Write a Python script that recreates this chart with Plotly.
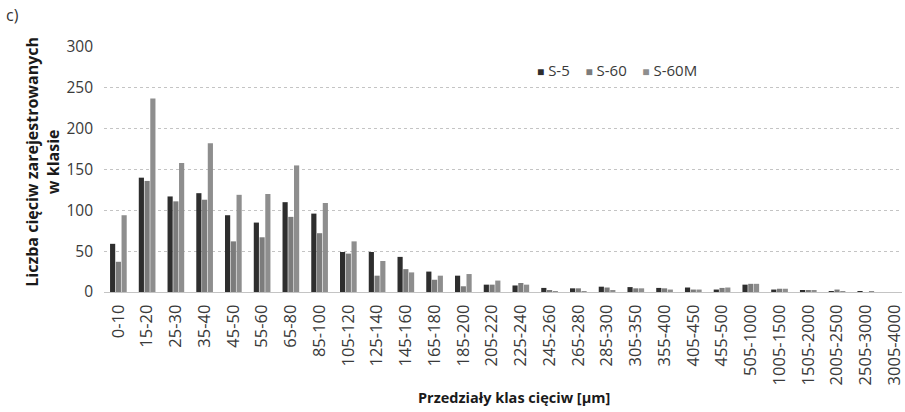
import plotly.graph_objects as go

# Chord-length classes [µm]
classes = ["0-10", "15-20", "25-30", "35-40", "45-50", "55-60", "65-80", "85-100",
           "105-120", "125-140", "145-160", "165-180", "185-200", "205-220",
           "225-240", "245-260", "265-280", "285-300", "305-350", "355-400",
           "405-450", "455-500", "505-1000", "1005-1500", "1505-2000",
           "2005-2500", "2505-3000", "3005-4000"]

# Number of chords recorded in each class
s5 = [59, 140, 117, 121, 94, 85, 110, 96, 49, 49, 43, 25, 20, 9,
      8, 5, 4.5, 6.5, 6, 5, 5.5, 3, 9, 3, 1.5, 1, 1, 0]
s60 = [37, 136, 111, 113, 62, 67, 92, 72, 47, 20, 28, 15, 7, 9,
       11, 2, 4.5, 5.5, 4.5, 4.5, 3, 5, 10, 4, 2, 3, 0, 0]
s60m = [94, 237, 158, 182, 119, 120, 155, 109, 62, 38, 24, 20, 22, 14,
        9, 1, 1, 2, 4.5, 3, 3, 5.5, 10, 4, 2, 1, 0.5, 0]

y_ticks = [0, 50, 100, 150, 200, 250, 300]

FONT = "Open Sans"
TXT = "#3a3a3a"
series = [("S-5", s5, "#2e2e2e"),
          ("S-60", s60, "#7c7c7c"),
          ("S-60M", s60m, "#8e8e8e")]

fig = go.Figure()
for name, vals, col in series:
    fig.add_trace(go.Bar(x=classes, y=vals, name=name, marker_color=col,
                         marker_line_width=0, showlegend=False))

fig.update_layout(
    width=905, height=412,
    margin=dict(l=104, r=0, t=47, b=120),
    paper_bgcolor="white", plot_bgcolor="white",
    barmode="group", bargap=0.4, bargroupgap=0.1,
    font=dict(family=FONT, color=TXT),
)

fig.update_xaxes(
    type="category", range=[-0.5, 27.26],
    tickangle=-90, tickfont=dict(size=16.5, color=TXT),
    showgrid=False, showline=True, linecolor="#c4c4c4", linewidth=1,
    ticks="", ticklabelstandoff=5,
)
fig.update_yaxes(
    range=[0, 300], tickvals=y_ticks, tickfont=dict(size=15.5, color=TXT),
    showgrid=True, gridcolor="#c4c4c4", griddash="dot", gridwidth=1,
    zeroline=False, showline=False, ticks="", ticklabelstandoff=10,
)

# Compact legend: coloured squares followed by the series names
legend_txt = "&nbsp;&nbsp;&nbsp;&nbsp;".join(
    f"<span style='color:{col}; font-size:12px'>■</span>&nbsp;{name}"
    for name, _, col in series)
fig.add_annotation(text=legend_txt, xref="paper", yref="paper",
                   x=0.54, y=0.905, xanchor="left", yanchor="middle",
                   showarrow=False, font=dict(size=15, color=TXT, family=FONT))

# Axis titles and panel label
fig.add_annotation(text="<b>Liczba cięciw zarejestrowanych<br>w klasie</b>",
                   xref="paper", yref="paper", x=-0.077, y=0.53,
                   xanchor="center", yanchor="middle", textangle=-90,
                   showarrow=False, font=dict(size=16, color="#1a1a1a", family=FONT))
fig.add_annotation(text="<b>Przedziały klas cięciw [µm]</b>",
                   xref="paper", yref="paper", x=0.514, y=-0.43,
                   xanchor="center", yanchor="middle",
                   showarrow=False, font=dict(size=14.5, color="#1a1a1a", family=FONT))
fig.add_annotation(text="c)", xref="paper", yref="paper", x=-0.125, y=1.13,
                   xanchor="left", yanchor="middle", showarrow=False,
                   font=dict(size=16, color="#333333", family=FONT))

fig.write_html("out.html")
